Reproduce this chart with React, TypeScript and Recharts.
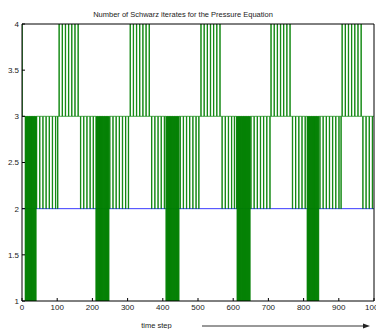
import { Line, LineChart, XAxis, YAxis } from 'recharts';

// number of Schwarz iterates per time step (one digit = one step, 0..1000)
// spaces only group the runs for reading
const iterateRows = [
  '4 33333333 1313131313131313 1313131313131313 233333333 233333333 233333333 233333333 233333333 233333333 23333',
  '32333 433333333 433333333 433333333 433333333 433333333 433333333 433333 3 233333333 233333333 233333333 2333333',
  '3323333333 1313131313131313 1313131313131313 131313 3 233333333 233333333 233333333 233333333 233333333 233333',
  '3323333 433333333 433333333 433333333 433333333 433333333 433333333 433333 3 233333333 233333333 233333333 23333',
  '333323333 1313131313131313 1313131313131313 131313 33 233333333 233333333 233333333 233333333 233333333 233333',
  '33233333 433333333 433333333 433333333 433333333 433333333 433333333 4333 33 233333333 233333333 233333333 23333',
  '33323333323 1313131313131313 1313131313131313 131313 3 233333333 233333333 233333333 233333333 233333333 23333',
  '3333233 433333333 433333333 433333333 433333333 433333333 433333333 433333 3 233333333 233333333 233333333 23333',
  '3333233333 1313131313131313 131313131313131313 33 233333333 233333333 233333333 233333333 233333333 233333333',
  '233333233 433333333 433333333 433333333 433333333 433333333 433333333 4333 3 233333333 233333333 233333333 23333',
  '3',
];

// the blue reference level
const levelSteps = [0, 1000];
const levelValues = [2, 2];

const xTicks = [0, 100, 200, 300, 400, 500, 600, 700, 800, 900, 1000];
const yTicks = [1, 1.5, 2, 2.5, 3, 3.5, 4];

const iterateDigits = iterateRows.join('').replace(/\s/g, '');
const chartData = iterateDigits.split('').map((d, i) => ({ step: i, iterates: Number(d) }));
const levelData = levelSteps.map((s, i) => ({ step: s, level: levelValues[i] }));

const FONT = '"Liberation Sans", Arial, Helvetica, sans-serif';
const tickStyle = { fontSize: 8, fill: '#222', fontFamily: FONT };

export default function App() {
  return (
    <div style={{ position: 'absolute', left: 0, top: 0, width: 376, height: 329, background: '#fff' }}>
      <LineChart
        width={376}
        height={329}
        data={chartData}
        margin={{ top: 0, right: 0, bottom: 0, left: 0 }}
      >
        <XAxis
          dataKey="step"
          type="number"
          domain={[0, 1000]}
          ticks={xTicks}
          interval={0}
          allowDataOverflow
          height={28}
          tickSize={-3}
          tickMargin={6}
          tick={tickStyle}
          stroke="#000"
          tickLine={{ stroke: '#000' }}
        />
        <XAxis
          xAxisId="top"
          orientation="top"
          type="number"
          domain={[0, 1000]}
          ticks={xTicks}
          interval={0}
          allowDataOverflow
          height={24}
          tickSize={-3}
          tick={false}
          stroke="#000"
        />
        <YAxis
          type="number"
          domain={[1, 4]}
          ticks={yTicks}
          interval={0}
          allowDataOverflow
          width={22}
          tickSize={-3}
          tickMargin={6}
          tick={tickStyle}
          stroke="#000"
          tickLine={{ stroke: '#000' }}
        />
        <YAxis
          yAxisId="right"
          orientation="right"
          type="number"
          domain={[1, 4]}
          ticks={yTicks}
          interval={0}
          allowDataOverflow
          width={2}
          tickSize={-3}
          tick={false}
          stroke="#000"
        />
        <Line
          data={levelData}
          dataKey="level"
          stroke="#3b3bff"
          strokeWidth={1}
          dot={false}
          isAnimationActive={false}
        />
        <Line
          dataKey="iterates"
          type="stepAfter"
          stroke="#008000"
          strokeWidth={0.85}
          dot={false}
          isAnimationActive={false}
        />
      </LineChart>
      <svg
        width={376}
        height={329}
        style={{ position: 'absolute', left: 0, top: 0, pointerEvents: 'none' }}
      >
        <text x={183} y={16.5} textAnchor="middle" fontSize={7.5} fill="#222" fontFamily={FONT}>
          Number of Schwarz iterates for the Pressure Equation
        </text>
        <text x={156.5} y={328} textAnchor="middle" fontSize={7.5} fill="#222" fontFamily={FONT}>
          time step
        </text>
        <line x1={202} y1={326} x2={364} y2={326} stroke="#333" strokeWidth={1} />
        <polygon points="370,326 363,323.5 363,328.5" fill="#222" />
      </svg>
    </div>
  );
}
